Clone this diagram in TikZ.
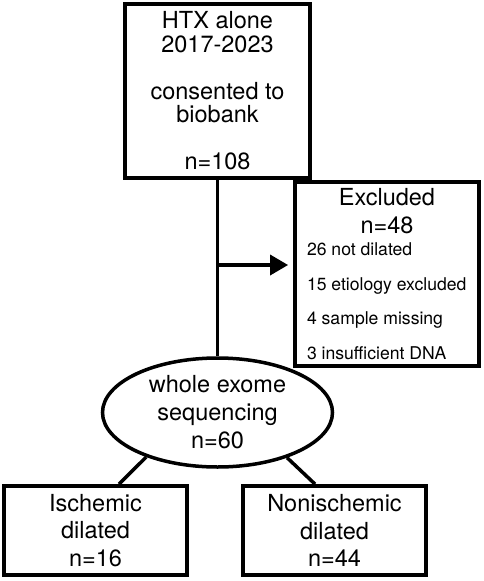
\documentclass[tikz,border=0pt]{standalone}
\usepackage{fontspec}
\setmainfont{TeX Gyre Heros}
\usetikzlibrary{arrows.meta,shapes.geometric}
\begin{document}
\begin{tikzpicture}[x=1pt,y=-1pt,
  box/.style={draw,line width=3.8pt,rectangle,inner sep=0pt,align=center},
  ellbox/.style={draw,line width=3.5pt,ellipse,inner sep=0pt,align=center},
  conn/.style={line width=3.5pt},
  arr/.style={conn,-{Triangle[length=18pt,width=20pt]}}]
\useasboundingbox (0,0) rectangle (484,581);
\node[box,minimum width=185pt,minimum height=174pt] (top) at (217.5,91)
  {\parbox{180pt}{\fontsize{23.5}{23.5}\selectfont\centering HTX alone\\2017-2023\\[23.5pt]consented to\\biobank\\[23.5pt]n=108}};
\node[box,minimum width=184pt,minimum height=184pt] (excl) at (387,274)
  {\parbox{160pt}{\fontsize{23.5}{28}\selectfont\centering Excluded\\n=48\par\vspace{-12pt}\fontsize{17.6}{34.5}\selectfont\raggedright 26 not dilated\\15 etiology excluded\\4 sample missing\\3 insufficient DNA\par}};
\node[ellbox,minimum width=230pt,minimum height=109pt] (ell) at (217.5,412.5)
  {\raisebox{-3pt}{\parbox{144pt}{\fontsize{23.5}{28}\selectfont\centering whole exome\\sequencing\\n=60}}};
\node[box,minimum width=183pt,minimum height=89pt] (isch) at (95.5,530.5)
  {\parbox{170pt}{\fontsize{23.5}{27.5}\selectfont\centering Ischemic\\dilated\\n=16}};
\node[box,minimum width=183pt,minimum height=89pt] (nonisch) at (334.5,530.5)
  {\parbox{170pt}{\fontsize{23.5}{27.5}\selectfont\centering Nonischemic\\dilated\\n=44}};
\coordinate (br) at (217.5,265);
\draw[conn] (top.south) -- (ell.north);
\draw[arr,shorten >=5pt] (br) -- (br -| excl.west);
\draw[conn] (ell.212) -- ([xshift=23.5pt]isch.north);
\draw[conn] (ell.327) -- ([xshift=-19.5pt]nonisch.north);
\end{tikzpicture}
\end{document}
